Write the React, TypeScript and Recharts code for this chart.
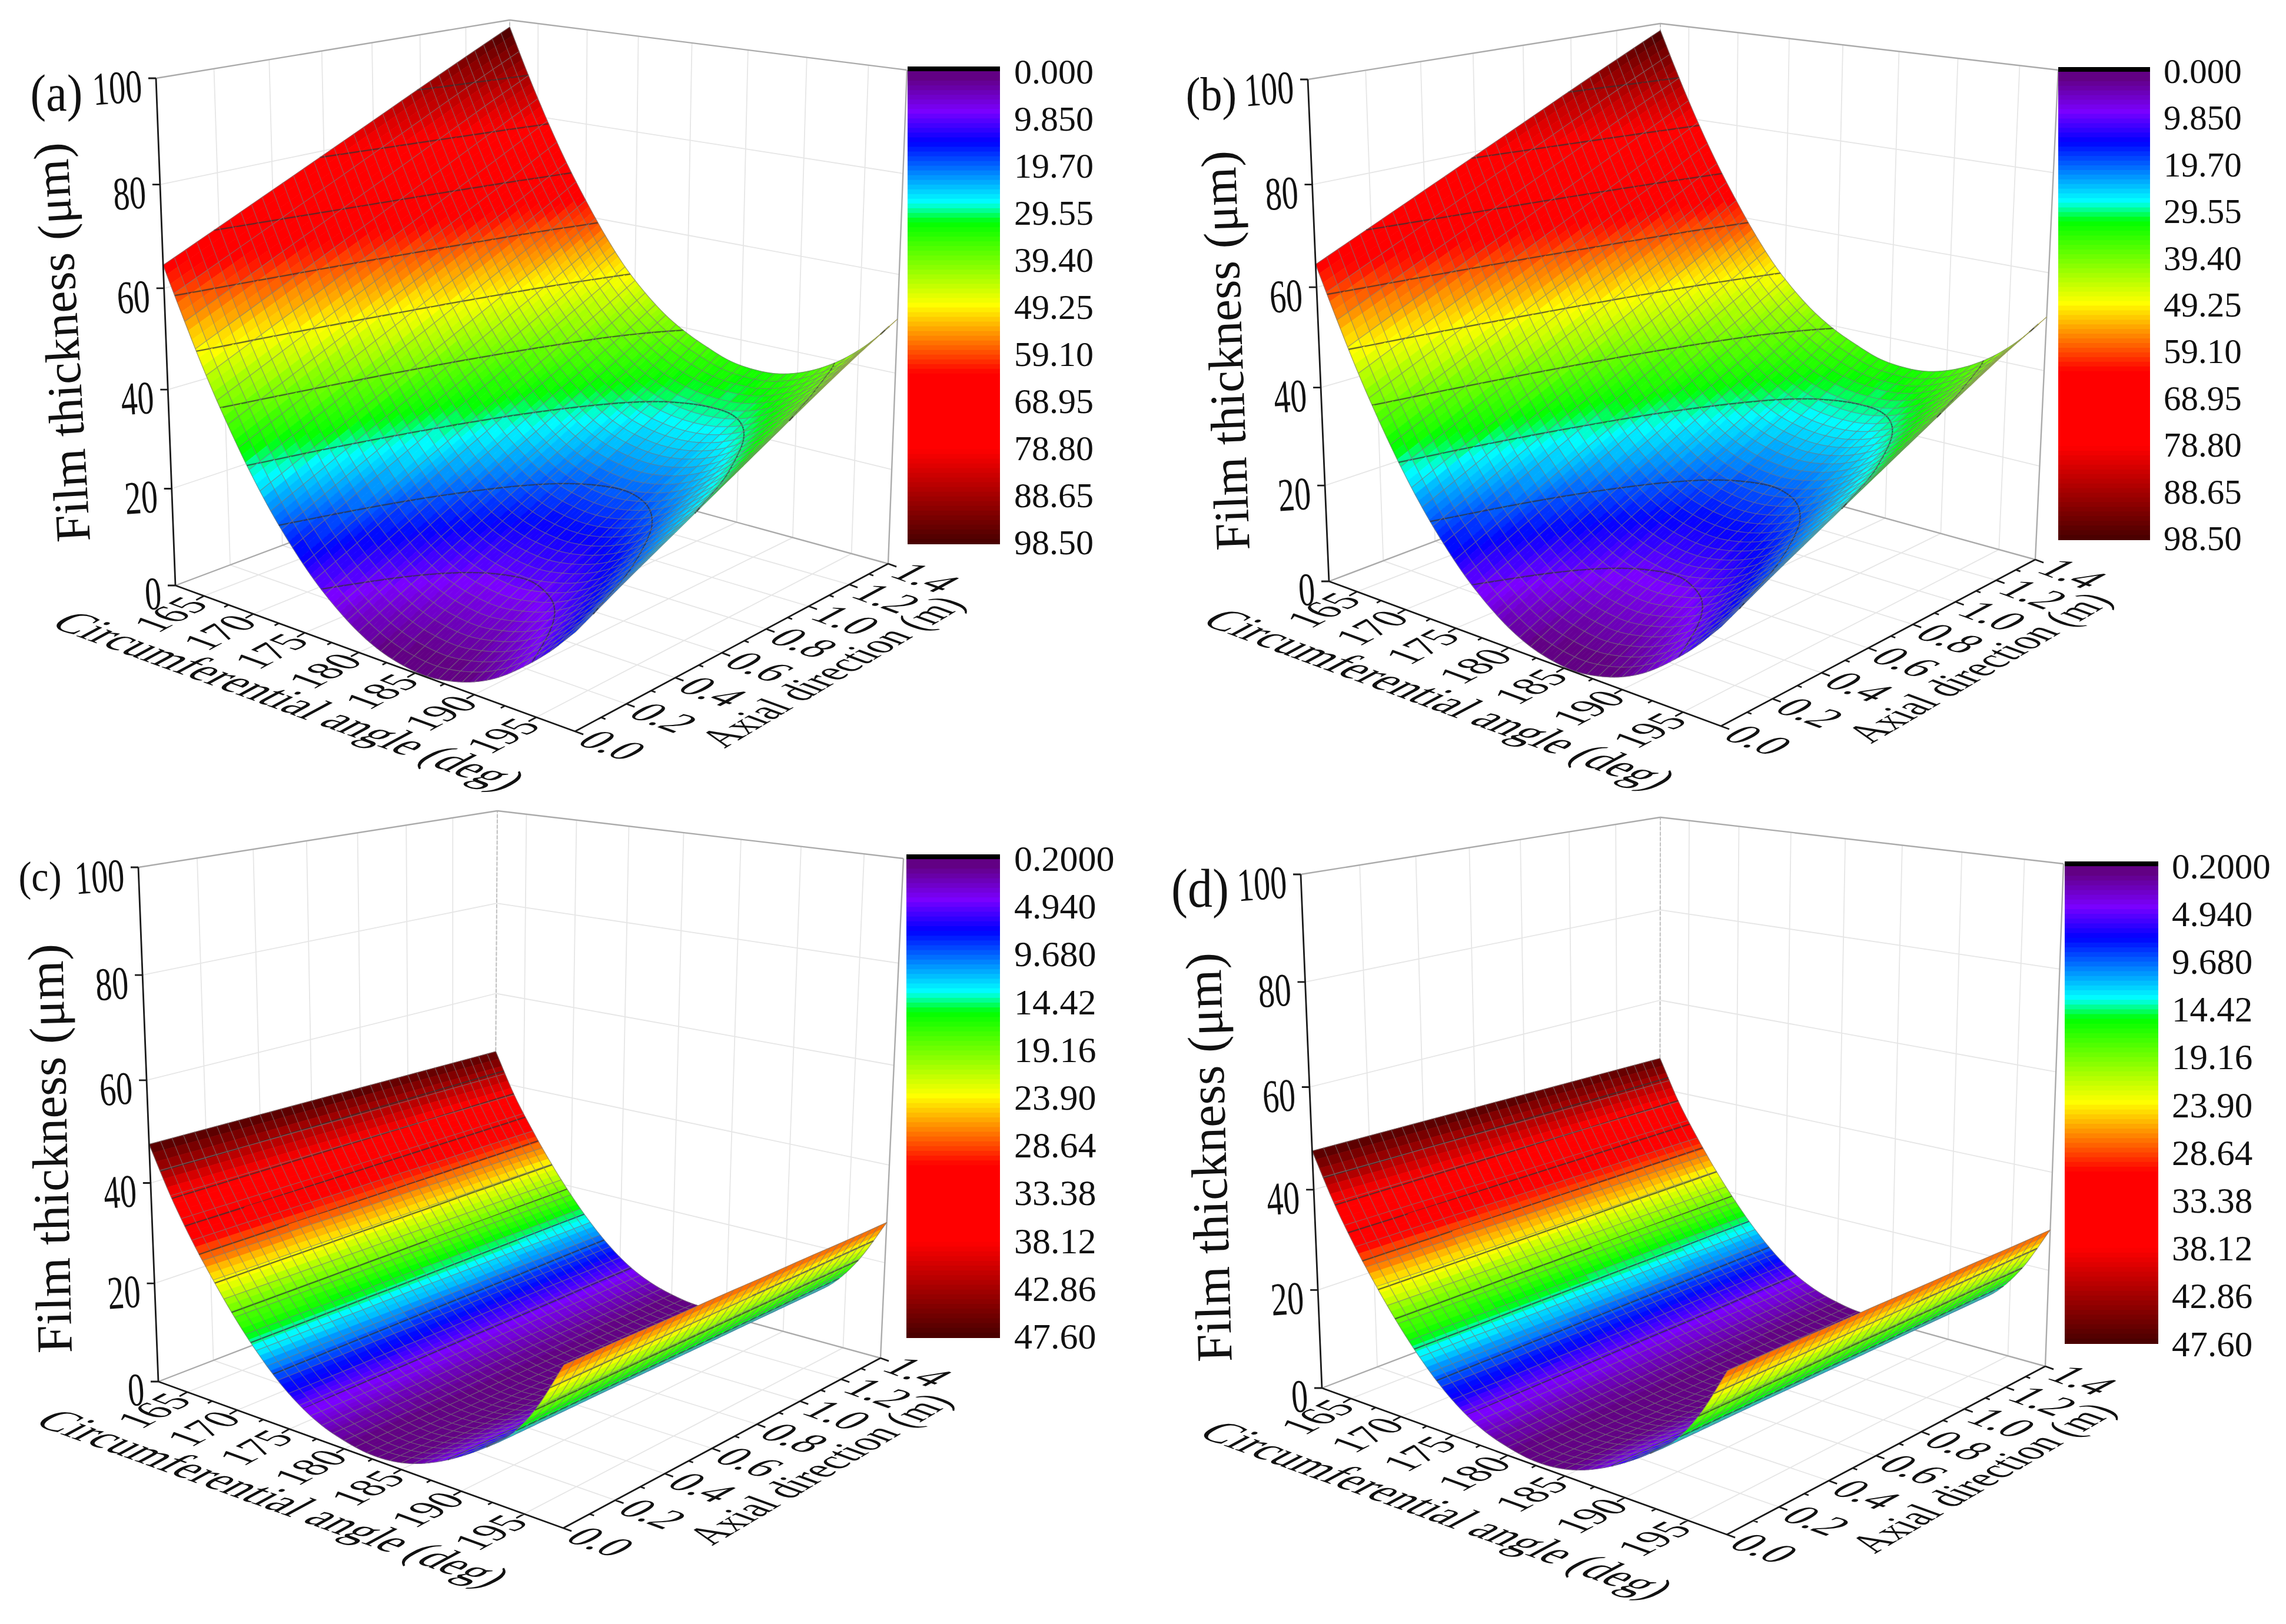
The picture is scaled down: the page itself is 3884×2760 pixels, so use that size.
import React from 'react';
import { ScatterChart, Scatter, XAxis, YAxis } from 'recharts';

// ---------- values ----------
const angleNodes = [162,164,166,168,170,172,174,176,178,180,182,184,186,188,190,192,194,196,198];
const axialNodes = [0,0.2,0.4,0.6,0.8,1.0,1.2,1.4];

const filmAB_00 = [64.5,54.5,45.0,36.5,28.8,22.0,16.2,11.2,7.2,4.0,1.8,0.6,0.2,0.9,2.4,4.9,8.5,12.8,18.0];
const filmAB_02 = [69.4,59.4,49.9,41.4,33.7,26.9,21.1,16.1,12.1,8.9,6.7,5.5,5.1,5.8,7.2,9.7,13.3,17.6,23.0];
const filmAB_04 = [74.3,64.3,54.8,46.3,38.6,31.8,26.0,21.0,17.0,13.8,11.6,10.4,10.0,10.7,12.1,14.5,18.1,22.4,27.8];
const filmAB_06 = [79.2,69.2,59.7,51.2,43.5,36.7,30.9,25.9,21.9,18.7,16.5,15.3,14.9,15.5,17.0,19.4,23.0,27.2,32.6];
const filmAB_08 = [84.1,74.1,64.6,56.1,48.4,41.6,35.8,30.8,26.8,23.6,21.4,20.2,19.8,20.4,21.8,24.2,27.8,32.0,37.4];
const filmAB_10 = [89.0,79.0,69.5,61.0,53.3,46.5,40.7,35.7,31.7,28.5,26.3,25.1,24.7,25.2,26.6,29.0,32.5,36.8,42.2];
const filmAB_12 = [93.8,83.9,74.4,65.9,58.2,51.4,45.6,40.6,36.6,33.4,31.2,30.0,29.6,29.9,31.2,33.5,37.0,41.4,46.8];
const filmAB_14 = [98.5,88.6,79.4,71.0,63.5,56.6,50.6,45.8,41.9,39.0,36.8,35.0,34.3,34.4,35.6,37.8,41.0,45.4,51.0];
const filmAB = [filmAB_00,filmAB_02,filmAB_04,filmAB_06,filmAB_08,filmAB_10,filmAB_12,filmAB_14];

const filmCD_00 = [47.6,38.6,31.0,24.4,18.4,13.2,8.8,5.4,3.0,1.6,0.8,0.9,1.9,3.8,6.4,9.6,13.4,19.8,28.6];
const filmCD_02 = [47.5,38.5,31.0,24.3,18.4,13.2,8.7,5.3,3.0,1.6,0.8,0.9,1.9,3.8,6.4,9.6,13.4,19.8,28.6];
const filmCD_04 = [47.4,38.4,30.9,24.3,18.3,13.1,8.7,5.3,2.9,1.5,0.7,0.8,1.8,3.8,6.4,9.6,13.4,19.7,28.5];
const filmCD_06 = [47.3,38.3,30.8,24.2,18.3,13.1,8.6,5.2,2.9,1.5,0.7,0.8,1.8,3.8,6.4,9.5,13.4,19.7,28.5];
const filmCD_08 = [47.2,38.2,30.8,24.2,18.2,13.0,8.6,5.2,2.9,1.5,0.7,0.8,1.8,3.7,6.3,9.5,13.3,19.7,28.4];
const filmCD_10 = [47.1,38.1,30.7,24.1,18.2,13.0,8.6,5.2,2.8,1.5,0.6,0.7,1.7,3.7,6.3,9.5,13.3,19.6,28.4];
const filmCD_12 = [47.0,38.0,30.7,24.1,18.1,12.9,8.5,5.1,2.8,1.4,0.6,0.7,1.7,3.7,6.3,9.4,13.3,19.6,28.3];
const filmCD_14 = [46.9,37.9,30.6,24.0,18.1,12.9,8.5,5.1,2.8,1.4,0.6,0.7,1.7,3.7,6.2,9.4,13.2,19.5,28.3];
const filmCD = [filmCD_00,filmCD_02,filmCD_04,filmCD_06,filmCD_08,filmCD_10,filmCD_12,filmCD_14];

const zTicks = [0,20,40,60,80,100];
const angleTicks = [165,170,175,180,185,190,195];
const angleMinorTicks = [167.5,172.5,177.5,182.5,187.5,192.5];
const axialTicks = [0,0.2,0.4,0.6,0.8,1.0,1.2,1.4];
const axialMinorTicks = [0.1,0.3,0.5,0.7,0.9,1.1,1.3];

const scaleLabelsAB = ['0.000','9.850','19.70','29.55','39.40','49.25','59.10','68.95','78.80','88.65','98.50'];
const scaleLabelsCD = ['0.2000','4.940','9.680','14.42','19.16','23.90','28.64','33.38','38.12','42.86','47.60'];

const colorStops: [number, number, number, number][] = [
  [0.013,96,0,120],[0.09,122,0,255],[0.155,0,0,255],[0.282,0,255,255],[0.325,0,255,0],
  [0.5,255,255,0],[0.645,255,0,0],[0.805,255,0,0],[1,75,0,0],
];

// ---------- layout of the four panels ----------
type Pt = [number, number];
interface PanelCfg {
  name: string; ox: number; oy: number; w: number; h: number;
  FLb: Pt; FLt: Pt; FRb: Pt; FRt: Pt; BLb: Pt; BLt: Pt; BRb: Pt; BRt: Pt;
  film: number[][]; zMin: number; zMax: number; labels: string[];
  bar: [number, number, number, number]; labelX: number; labelY0: number; labelY1: number; labelFont: number;
  title: [number, number, number, number]; tag: [number, number, number];
  angleTitle: Pt; axialTitle: Pt;
}
const panels: PanelCfg[] = [
  { name:'(a)', ox:0, oy:0, w:1940, h:1370,
    FLb:[298,995], FLt:[265,133], FRb:[977,1243], FRt:[981,258], BLb:[866,782], BLt:[866,34], BRb:[1509,958], BRt:[1541,119],
    film:filmAB, zMin:0, zMax:98.5, labels:scaleLabelsAB, bar:[1542,113,1699,924], labelX:1723, labelY0:122, labelY1:922, labelFont:60,
    title:[105,582,-93.3,84], tag:[96,158,80], angleTitle:[492,1191], axialTitle:[1412,1141] },
  { name:'(b)', ox:1940, oy:0, w:1944, h:1370,
    FLb:[2258,988], FLt:[2222,135], FRb:[2924,1234], FRt:[2928,248], BLb:[2821,775], BLt:[2821,40], BRb:[3458,951], BRt:[3497,119],
    film:filmAB, zMin:0, zMax:98.5, labels:scaleLabelsAB, bar:[3497,114,3653,917], labelX:3676, labelY0:121, labelY1:915, labelFont:59,
    title:[2082,596,-92.1,84], tag:[2058,160,74], angleTitle:[2447,1188], axialTitle:[3361,1134] },
  { name:'(c)', ox:0, oy:1370, w:1940, h:1390,
    FLb:[269,2348], FLt:[235,1474], FRb:[957,2597], FRt:[961,1586], BLb:[840,2128], BLt:[845,1378], BRb:[1496,2308], BRt:[1535,1459],
    film:filmCD, zMin:0.2, zMax:47.6, labels:scaleLabelsCD, bar:[1540,1452,1699,2273], labelX:1723, labelY0:1459, labelY1:2271, labelFont:62,
    title:[85,1952,-91.3,86], tag:[68,1489,66], angleTitle:[465,2546], axialTitle:[1391,2496] },
  { name:'(d)', ox:1940, oy:1370, w:1944, h:1390,
    FLb:[2246,2359], FLt:[2210,1486], FRb:[2934,2608], FRt:[2938,1593], BLb:[2820,2140], BLt:[2821,1389], BRb:[3475,2322], BRt:[3506,1468],
    film:filmCD, zMin:0.2, zMax:47.6, labels:scaleLabelsCD, bar:[3508,1464,3667,2283], labelX:3690, labelY0:1472, labelY1:2284, labelFont:61,
    title:[2054,1967,-91.6,86], tag:[2039,1510,84], angleTitle:[2442,2566], axialTitle:[3367,2511] },
];

const FONT = '"Liberation Serif", serif';
const A_MIN = 162, A_MAX = 198, Y_MAX = 1.4, Z_MAX = 100;
const MESH_A = 2, FILL_A = 3, MESH_Y = 5;

// ---------- helpers ----------
const persp = (t: number, r: number) => t / (t + r * (1 - t));
function project(c: PanelCfg, a: number, y: number, z: number): Pt {
  const u = persp((a - A_MIN) / (A_MAX - A_MIN), 1.18);
  const v = persp(y / Y_MAX, 0.85);
  const w = persp(z / Z_MAX, 1.06);
  const mix = (k: 0 | 1) => {
    const b = (1 - v) * ((1 - u) * c.FLb[k] + u * c.FRb[k]) + v * ((1 - u) * c.BLb[k] + u * c.BRb[k]);
    const t = (1 - v) * ((1 - u) * c.FLt[k] + u * c.FRt[k]) + v * ((1 - u) * c.BLt[k] + u * c.BRt[k]);
    return b + (t - b) * w;
  };
  return [mix(0), mix(1)];
}
function colorAt(frac: number) {
  const q = Math.round(Math.max(0.015, Math.min(1, frac)) * 100) / 100;
  for (let i = 1; i < colorStops.length; i++) {
    const [p1, r1, g1, b1] = colorStops[i];
    if (q <= p1) {
      const [p0, r0, g0, b0] = colorStops[i - 1];
      const s = (q - p0) / (p1 - p0);
      return `rgb(${Math.round(r0 + (r1 - r0) * s)},${Math.round(g0 + (g1 - g0) * s)},${Math.round(b0 + (b1 - b0) * s)})`;
    }
  }
  return 'rgb(75,0,0)';
}
// smooth drawing through the nodes, as a curve type would do between the points of a line
function smooth(vals: number[], sub: number) {
  const n = vals.length, out: number[] = [];
  const at = (i: number) => (i < 0 ? 2 * vals[0] - vals[1] : i >= n ? 2 * vals[n - 1] - vals[n - 2] : vals[i]);
  for (let i = 0; i < n - 1; i++) {
    for (let k = 0; k < sub; k++) {
      const s = k / sub, p0 = at(i - 1), p1 = at(i), p2 = at(i + 1), p3 = at(i + 2);
      out.push(0.5 * (2 * p1 + (p2 - p0) * s + (2 * p0 - 5 * p1 + 4 * p2 - p3) * s * s + (3 * p1 - p0 - 3 * p2 + p3) * s * s * s));
    }
  }
  out.push(vals[n - 1]);
  return out;
}
function smooth2D(f: number[][], subI: number, subJ: number) {
  const rows = f.map((r) => smooth(r, subI));
  const cols = rows[0].map((_, i) => smooth(rows.map((r) => r[i]), subJ));
  return smooth(f.map((_, j) => j), subJ).map((_, j) => cols.map((c) => c[j]));
}
const NoDot = () => null;
const f1 = (n: number) => n.toFixed(1);

// ---------- layers, all fed with the pixel points that the chart's scales return ----------
function drawSegments(points: { x: number; y: number }[], stroke: string, width: number, dash?: string) {
  let d = '';
  for (let i = 0; i + 1 < points.length; i += 2) d += `M${f1(points[i].x)} ${f1(points[i].y)}L${f1(points[i + 1].x)} ${f1(points[i + 1].y)}`;
  return <path d={d} fill="none" stroke={stroke} strokeWidth={width} strokeDasharray={dash} />;
}
function drawBar(points: { x: number; y: number }[]) {
  const out: React.ReactNode[] = [];
  for (let i = 0; i + 1 < points.length; i += 2) {
    const frac = i / (points.length - 2);
    const fill = frac < 0.006 ? '#000' : colorAt(frac);
    out.push(<rect key={i} x={points[i].x} y={points[i].y} width={points[i + 1].x - points[i].x} height={points[i + 1].y - points[i].y + 1} fill={fill} />);
  }
  return <g>{out}</g>;
}
function drawSurface(points: { x: number; y: number }[], c: PanelCfg) {
  const ni = angleNodes.length, nj = axialNodes.length;
  const gx: number[][] = [], gy: number[][] = [];
  for (let j = 0; j < nj; j++) {
    gx.push(points.slice(j * ni, (j + 1) * ni).map((p) => p.x));
    gy.push(points.slice(j * ni, (j + 1) * ni).map((p) => p.y));
  }
  const subI = MESH_A * FILL_A, subJ = MESH_Y;
  const X = smooth2D(gx, subI, subJ), Y = smooth2D(gy, subI, subJ), Z = smooth2D(c.film, subI, subJ);
  const NI = X[0].length - 1, NJ = X.length - 1;
  const span = c.zMax - c.zMin;
  const levels = Array.from({ length: 9 }, (_, k) => c.zMin + (span * (k + 1)) / 10);
  const els: React.ReactNode[] = [];
  const P = (i: number, j: number) => `${f1(X[j][i])} ${f1(Y[j][i])}`;
  const cross = (i0: number, j0: number, i1: number, j1: number, L: number) => {
    const a = Z[j0][i0], b = Z[j1][i1];
    if ((a < L) === (b < L)) return null;
    const s = (L - a) / (b - a);
    return `${f1(X[j0][i0] + (X[j1][i1] - X[j0][i0]) * s)} ${f1(Y[j0][i0] + (Y[j1][i1] - Y[j0][i0]) * s)}`;
  };
  for (let j = NJ - 1; j >= 0; j--) {
    for (let i = 0; i < NI; i++) {
      const zm = (Z[j][i] + Z[j][i + 1] + Z[j + 1][i] + Z[j + 1][i + 1]) / 4;
      const col = colorAt((zm - c.zMin) / span);
      els.push(<path key={`f${j}-${i}`} d={`M${P(i, j)}L${P(i + 1, j)}L${P(i + 1, j + 1)}L${P(i, j + 1)}Z`} fill={col} stroke={col} strokeWidth={0.8} />);
      let cd = '';
      for (const L of levels) {
        const pts = [cross(i, j, i + 1, j, L), cross(i + 1, j, i + 1, j + 1, L), cross(i + 1, j + 1, i, j + 1, L), cross(i, j + 1, i, j, L)].filter(Boolean) as string[];
        if (pts.length >= 2) cd += `M${pts[0]}L${pts[1]}`;
      }
      if (i % FILL_A === FILL_A - 1) {
        const i0 = i - (FILL_A - 1);
        let d = `M${P(i0, j)}L${P(i0, j + 1)}`;
        for (let k = 1; k <= FILL_A; k++) d += `L${P(i0 + k, j + 1)}`;
        if (j === 0) { d += `M${P(i0, j)}`; for (let k = 1; k <= FILL_A; k++) d += `L${P(i0 + k, j)}`; }
        if (i + 1 === NI) d += `M${P(i + 1, j)}L${P(i + 1, j + 1)}`;
        els.push(<path key={`m${j}-${i}`} d={d} fill="none" stroke="rgba(120,120,120,0.66)" strokeWidth={1.3} />);
      }
      if (cd) els.push(<path key={`c${j}-${i}`} d={cd} fill="none" stroke="rgba(50,50,50,0.7)" strokeWidth={2.4} />);
    }
  }
  return <g>{els}</g>;
}

const TextMark = (props: any) => {
  const { cx, cy, payload } = props;
  const m = payload.m as number[];
  return (
    <text transform={`matrix(${m[0]} ${m[1]} ${m[2]} ${m[3]} ${cx} ${cy})`} fontFamily={FONT} fontSize={payload.font}
      textAnchor={payload.anchor} dominantBaseline="central" fill="#111">{payload.label}</text>
  );
};

function unit(a: Pt, b: Pt): Pt {
  const dx = b[0] - a[0], dy = b[1] - a[1], l = Math.hypot(dx, dy);
  return [dx / l, dy / l];
}
const pt = (p: Pt) => ({ x: p[0], y: p[1] });

function Panel({ c }: { c: PanelCfg }) {
  const dirA = unit(c.FLb, c.FRb), dirY = unit(c.FRb, c.BRb);
  const S = (a: number, y: number, z: number) => pt(project(c, a, y, z));

  const grid: { x: number; y: number }[] = [];
  for (const y of axialTicks.slice(1)) {
    grid.push(S(A_MIN, y, 0), S(A_MIN, y, Z_MAX), S(A_MIN, y, 0), S(A_MAX, y, 0));
  }
  for (const a of angleTicks) grid.push(S(a, Y_MAX, 0), S(a, Y_MAX, Z_MAX), S(a, 0, 0), S(a, Y_MAX, 0));
  for (const z of zTicks.slice(1, -1)) grid.push(S(A_MIN, 0, z), S(A_MIN, Y_MAX, z), S(A_MIN, Y_MAX, z), S(A_MAX, Y_MAX, z));

  const edges = [
    S(A_MIN, 0, Z_MAX), S(A_MIN, Y_MAX, Z_MAX), S(A_MIN, Y_MAX, Z_MAX), S(A_MAX, Y_MAX, Z_MAX),
    S(A_MIN, 0, 0), S(A_MIN, Y_MAX, 0), S(A_MIN, Y_MAX, 0), S(A_MAX, Y_MAX, 0),
    S(A_MAX, Y_MAX, 0), S(A_MAX, Y_MAX, Z_MAX),
  ];
  const backEdge = [S(A_MIN, Y_MAX, 0), S(A_MIN, Y_MAX, Z_MAX)];

  const surface = axialNodes.flatMap((y, j) => angleNodes.map((a, i) => S(a, y, c.film[j][i])));

  const axes = [S(A_MIN, 0, 0), S(A_MIN, 0, Z_MAX), S(A_MIN, 0, 0), S(A_MAX, 0, 0), S(A_MAX, 0, 0), S(A_MAX, Y_MAX, 0)];
  const off = (p: { x: number; y: number }, d: Pt, l: number) => ({ x: p.x + d[0] * l, y: p.y + d[1] * l });
  for (const z of zTicks) { const p = S(A_MIN, 0, z); axes.push(p, off(p, [-1, 0], 13)); }
  for (const a of angleTicks) { const p = S(a, 0, 0); axes.push(p, off(p, [-dirY[0], -dirY[1]], 15)); }
  for (const a of angleMinorTicks) { const p = S(a, 0, 0); axes.push(p, off(p, [-dirY[0], -dirY[1]], 8)); }
  for (const y of axialTicks) { const p = S(A_MAX, y, 0); axes.push(p, off(p, dirA, 15)); }
  for (const y of axialMinorTicks) { const p = S(A_MAX, y, 0); axes.push(p, off(p, dirA, 8)); }

  const [bx0, by0, bx1, by1] = c.bar;
  const barPts: { x: number; y: number }[] = [];
  for (let k = 0; k <= 100; k++) {
    barPts.push({ x: bx0, y: by0 + ((by1 - by0) * k) / 101 }, { x: bx1, y: by0 + ((by1 - by0) * (k + 1)) / 101 });
  }

  const rot = (deg: number, sy: number) => {
    const r = (deg * Math.PI) / 180;
    return [Math.cos(r), Math.sin(r), -Math.sin(r) * sy, Math.cos(r) * sy];
  };
  const turn = (d: Pt, deg: number): Pt => {
    const r = (deg * Math.PI) / 180;
    return [d[0] * Math.cos(r) - d[1] * Math.sin(r), d[0] * Math.sin(r) + d[1] * Math.cos(r)];
  };
  const axialBase = turn(dirY, -2.5);
  const mAngle = [dirY[0], dirY[1], dirA[0] * 1.1, dirA[1] * 1.1];
  const mAxial = [dirA[0], dirA[1], -dirY[0] * 1.05, -dirY[1] * 1.05];
  const texts: any[] = [];
  for (const z of zTicks) {
    const p = S(A_MIN, 0, z);
    texts.push({ x: p.x - 24, y: p.y + 13, label: String(z), font: 56, anchor: 'end', m: rot(-4, 1.42) });
  }
  for (const a of angleTicks) {
    const p = off(S(a, 0, 0), [-dirY[0], -dirY[1]], 66);
    texts.push({ x: p.x, y: p.y, label: String(a), font: 68, anchor: 'middle', m: mAngle });
  }
  for (const y of axialTicks) {
    const p = off(S(A_MAX, y, 0), dirA, 68);
    texts.push({ x: p.x, y: p.y, label: y.toFixed(1), font: 72, anchor: 'middle', m: mAxial });
  }
  texts.push({ x: c.angleTitle[0], y: c.angleTitle[1], label: 'Circumferential angle (deg)', font: 74, anchor: 'middle', m: [dirA[0], dirA[1], -dirY[0] * 1.12, -dirY[1] * 1.12] });
  texts.push({ x: c.axialTitle[0], y: c.axialTitle[1], label: 'Axial direction (m)', font: 62, anchor: 'middle', m: [axialBase[0], axialBase[1], dirA[0] * 1.25, dirA[1] * 1.25] });
  texts.push({ x: c.title[0], y: c.title[1], label: 'Film thickness (\u03bcm)', font: c.title[3], anchor: 'middle', m: rot(c.title[2], 1.0) });
  texts.push({ x: c.tag[0], y: c.tag[1], label: c.name, font: c.tag[2], anchor: 'middle', m: [1, 0, 0, 1.1] });
  c.labels.forEach((label, k) => {
    texts.push({ x: c.labelX, y: c.labelY0 + ((c.labelY1 - c.labelY0) * k) / (c.labels.length - 1), label, font: c.labelFont, anchor: 'start', m: [1, 0, 0, 1] });
  });

  return (
    <div style={{ position: 'absolute', left: c.ox, top: c.oy, width: c.w, height: c.h }}>
      <ScatterChart width={c.w} height={c.h} margin={{ top: 0, right: 0, bottom: 0, left: 0 }}>
        <XAxis type="number" dataKey="x" hide domain={[c.ox, c.ox + c.w]} allowDataOverflow />
        <YAxis type="number" dataKey="y" hide reversed domain={[c.oy, c.oy + c.h]} allowDataOverflow />
        <Scatter data={grid} shape={NoDot} isAnimationActive={false} line={(p: any) => drawSegments(p.points, '#e6e6e6', 1.8)} />
        <Scatter data={backEdge} shape={NoDot} isAnimationActive={false} line={(p: any) => drawSegments(p.points, '#c0c0c0', 2, '6 3')} />
        <Scatter data={edges} shape={NoDot} isAnimationActive={false} line={(p: any) => drawSegments(p.points, '#ababab', 2.4)} />
        <Scatter data={surface} shape={NoDot} isAnimationActive={false} line={(p: any) => drawSurface(p.points, c)} />
        <Scatter data={axes} shape={NoDot} isAnimationActive={false} line={(p: any) => drawSegments(p.points, '#1a1a1a', 2.8)} />
        <Scatter data={barPts} shape={NoDot} isAnimationActive={false} line={(p: any) => drawBar(p.points)} />
        <Scatter data={texts} shape={TextMark} isAnimationActive={false} />
      </ScatterChart>
    </div>
  );
}

export default function App() {
  return (
    <div style={{ position: 'absolute', left: 0, top: 0, width: 3884, height: 2760, background: '#fff', overflow: 'hidden' }}>
      {panels.map((c) => <Panel key={c.name} c={c} />)}
    </div>
  );
}
